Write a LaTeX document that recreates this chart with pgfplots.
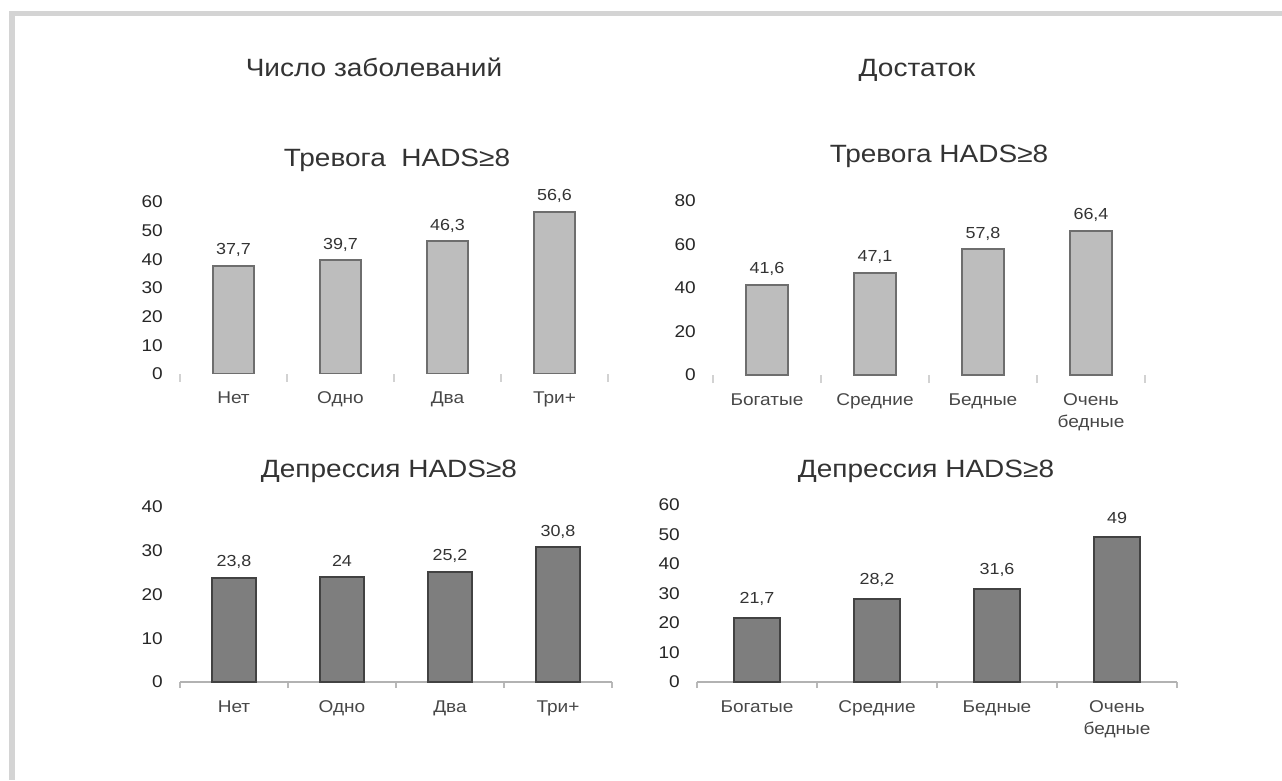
\documentclass[border=0pt]{standalone}
\usepackage{fontspec}
\setmainfont{Liberation Sans}[FakeStretch=1.12]
\usepackage{pgfplots}
\pgfplotsset{compat=1.18}
\definecolor{framec}{HTML}{D4D4D4}
\definecolor{lightbar}{HTML}{BDBDBD}
\definecolor{lightedge}{HTML}{6E6E6E}
\definecolor{darkbar}{HTML}{7E7E7E}
\definecolor{darkedge}{HTML}{424242}
\definecolor{txt}{HTML}{333333}
\newcommand\twoline[2]{\begin{tabular}[t]{@{}c@{}}#1\\#2\end{tabular}}
\pgfplotsset{
  panel/.style={
    scale only axis, anchor=south west, ybar, ymin=0,
    xmin=-0.5, xmax=3.5, enlargelimits=false,
    axis x line*=bottom, axis y line*=left,
    y axis line style={draw=none},
    x axis line style={draw=gray!60, line width=1.5pt},
    xtick={0,1,2,3}, major tick length=0pt,
    minor xtick={-0.5,0.5,1.5,2.5,3.5}, minor tick length=6pt,
    tick align=outside,
    minor x tick style={draw=gray!55, line width=1.5pt},
    major x tick style={draw=none}, ytick style={draw=none},
    yticklabel style={anchor=east, inner sep=0pt, xshift=-17pt, font=\fontsize{17}{20}\selectfont, text=black!85},
    xticklabel style={anchor=base, inner sep=0pt, yshift=-30pt, font=\fontsize{17}{22}\selectfont, text=black!72},
    /pgf/number format/.cd, use comma, 1000 sep={}, assume math mode=true, /pgfplots/.cd,
    nodes near coords,
    nodes near coords style={font=\fontsize{16}{19}\selectfont, inner sep=0pt, anchor=base, text=txt},
    title style={at={(0.5,1)}, anchor=base, font=\fontsize{25}{29}\selectfont, text=txt},
  },
  toppanel/.style={
    x axis line style={draw=none},
    minor tick length=8pt,
    minor x tick style={draw=gray!35, line width=1.5pt},
  },
  lightbars/.style={fill=lightbar, draw=lightedge, line width=2pt},
  darkbars/.style={fill=darkbar, draw=darkedge, line width=2pt},
}
\begin{document}
\begin{tikzpicture}
\useasboundingbox (0pt,0pt) rectangle (1282pt,780pt);
\fill[framec] (9pt,0pt) rectangle (15pt,769pt);
\fill[framec] (9pt,764pt) rectangle (1282pt,769pt);
\node[anchor=base, font=\fontsize{25}{29}\selectfont, text=txt] at (374pt,703pt) {Число заболеваний};
\node[anchor=base, font=\fontsize{25}{29}\selectfont, text=txt] at (917pt,703pt) {Достаток};

% Top-left
\begin{axis}[panel, toppanel, at={(180pt,406pt)}, width=428pt, height=172pt, ymax=60,
  ytick={0,10,...,60}, bar width=41pt,
  xticklabels={Нет,Одно,Два,Три+},
  nodes near coords style={yshift=11pt},
  title={Тревога\ \ HADS≥8}, title style={yshift=30pt, xshift=3pt}]
\addplot[lightbars] coordinates {(0,37.7) (1,39.7) (2,46.3) (3,56.6)};
\end{axis}

% Top-right
\begin{axis}[panel, toppanel, at={(713pt,405pt)}, width=432pt, height=174pt, ymax=80,
  ytick={0,20,...,80}, bar width=42pt,
  xticklabels={Богатые,Средние,Бедные,{\twoline{Очень}{бедные}}},
  nodes near coords style={yshift=11pt},
  title={Тревога HADS≥8}, title style={yshift=32pt, xshift=10pt}]
\addplot[lightbars] coordinates {(0,41.6) (1,47.1) (2,57.8) (3,66.4)};
\end{axis}

% Bottom-left
\begin{axis}[panel, at={(180pt,98pt)}, width=432pt, height=175pt, ymax=40,
  ytick={0,10,...,40}, bar width=44pt,
  xticklabels={Нет,Одно,Два,Три+},
  nodes near coords style={yshift=11pt},
  title={Депрессия HADS≥8}, title style={yshift=24pt, xshift=-7pt}]
\addplot[darkbars] coordinates {(0,23.8) (1,24) (2,25.2) (3,30.8)};
\end{axis}

% Bottom-right
\begin{axis}[panel, at={(697pt,98pt)}, width=480pt, height=177pt, ymax=60,
  ytick={0,10,...,60}, bar width=46pt,
  xticklabels={Богатые,Средние,Бедные,{\twoline{Очень}{бедные}}},
  nodes near coords style={yshift=14pt},
  title={Депрессия HADS≥8}, title style={yshift=22pt, xshift=-11pt}]
\addplot[darkbars] coordinates {(0,21.7) (1,28.2) (2,31.6) (3,49)};
\end{axis}
\end{tikzpicture}
\end{document}
